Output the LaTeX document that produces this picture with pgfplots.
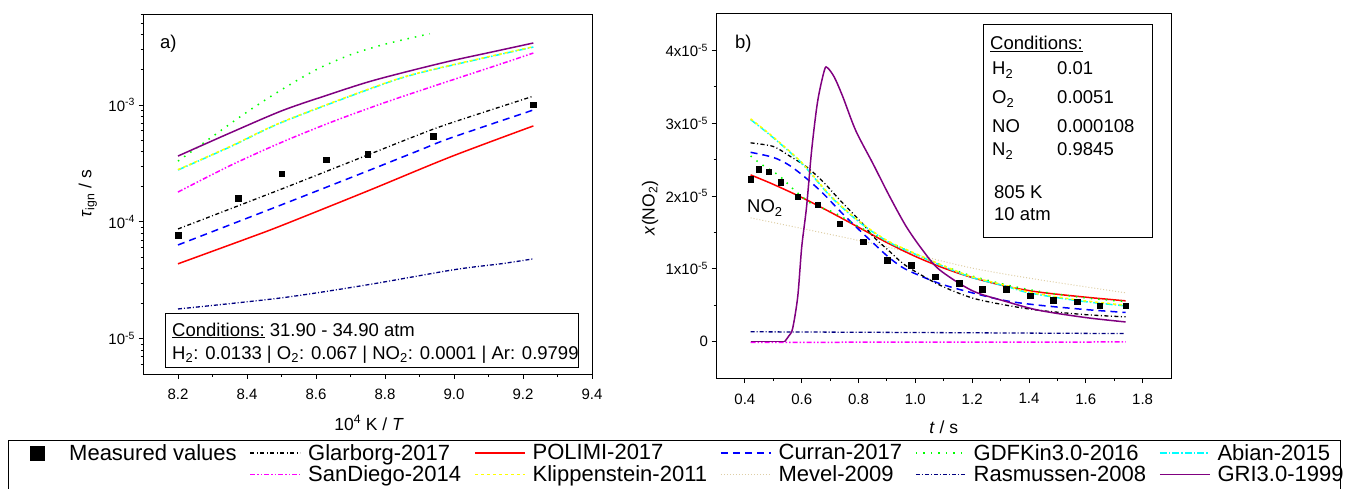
\documentclass[border=0pt]{standalone}
\usepackage{fontspec}
\setmainfont{Liberation Sans}
\usepackage{pgfplots}
\pgfplotsset{compat=1.18}
\definecolor{cGDF}{RGB}{0,255,0}
\definecolor{cAbian}{RGB}{0,255,255}
\definecolor{cSD}{RGB}{255,0,255}
\definecolor{cKlip}{RGB}{255,255,0}
\definecolor{cMevel}{RGB}{222,206,165}
\definecolor{cRas}{RGB}{0,0,128}
\definecolor{cGRI}{RGB}{128,0,128}
\definecolor{cCurran}{RGB}{0,0,255}
\definecolor{cPolimi}{RGB}{255,0,0}
\pgfplotsset{
 sGlar/.style={black, line width=1.3pt, dash pattern=on 4pt off 2.5pt on 1pt off 2.5pt},
 sPol/.style={cPolimi, line width=1.5pt},
 sCur/.style={cCurran, line width=1.5pt, dash pattern=on 7pt off 5pt},
 sGDF/.style={cGDF, line width=1.5pt, dash pattern=on 1.5pt off 6pt},
 sAbi/.style={cAbian, line width=1.5pt, dash pattern=on 7pt off 2pt on 1.5pt off 2pt},
 sSD/.style={cSD, line width=1.5pt, dash pattern=on 5pt off 2pt on 1.5pt off 2pt on 1.5pt off 2pt},
 sKli/.style={cKlip, line width=1.5pt, dash pattern=on 3pt off 3pt},
 sMev/.style={cMevel, line width=1pt, dash pattern=on 1pt off 2pt},
 sRas/.style={cRas, line width=1.3pt, dash pattern=on 4pt off 2pt on 1pt off 2pt},
 sGRI/.style={cGRI, line width=1.5pt},
 sMeas/.style={only marks, mark=square*, mark size=2.7pt, black},
 common/.style={
  scale only axis, anchor=south west,
  axis line style={line width=1pt, black},
  tick style={line width=0.9pt, black},
  tick align=outside, tick pos=left,
  major tick length=5pt, minor tick length=3pt,
  tick label style={font=\fontsize{15}{18}\selectfont, black},
  xticklabel style={yshift=-7pt},
  scaled ticks=false,
 },
}
\newcommand{\lab}{\fontsize{18.5}{22}\selectfont}
\newcommand{\axlab}{\fontsize{17.5}{21}\selectfont}
\begin{document}
\begin{tikzpicture}
\path[use as bounding box] (0,0) rectangle (1346pt,488pt);
% ---------------- panel a ----------------
\begin{axis}[common,
  at={(143.5pt,114pt)}, width=448.5pt, height=360pt,
  xmin=8.1, xmax=9.4,
  xtick={8.2,8.4,8.6,8.8,9.0,9.2,9.4},
  xticklabels={8.2,8.4,8.6,8.8,9.0,9.2,9.4},
  minor x tick num=1,
  ymode=log, ymin=5e-6, ymax=6e-3,
  ytick={1e-5,1e-4,1e-3},
  yticklabels={10\textsuperscript{-5},10\textsuperscript{-4},10\textsuperscript{-3}},
  minor ytick={6e-6,7e-6,8e-6,9e-6,2e-5,3e-5,4e-5,5e-5,6e-5,7e-5,8e-5,9e-5,2e-4,3e-4,4e-4,5e-4,6e-4,7e-4,8e-4,9e-4,2e-3,3e-3,4e-3,5e-3,6e-3},
  xlabel={10\textsuperscript{4} K / \textit{T}},
  ylabel={\textit{τ}\textsubscript{ign} / s},
  every axis x label/.style={at={(axis description cs:0.503,-0.136)}, anchor=center, font=\axlab},
  every axis y label/.style={at={(axis description cs:-0.124,0.5)}, rotate=90, anchor=center, font=\axlab},
  legend columns=6,
  legend cell align=left,
  legend image code/.code={\draw[mark repeat=2,mark phase=2,#1] plot coordinates {(0pt,0pt) (25pt,0pt) (50pt,0pt)};},
  legend style={draw=none, fill=none, inner sep=0pt,
    at={(axis description cs:-0.2932,-0.1889)}, anchor=north west,
    font=\fontsize{22}{26}\selectfont,
    nodes={inner sep=2pt},
    /tikz/every odd column/.append style={column sep=5pt},
    /tikz/every even column/.append style={column sep=11pt}},
]
\addplot[sMeas, forget plot] coordinates {(8.2,7.7e-5) (8.375,1.6e-4) (8.5,2.57e-4) (8.63,3.39e-4) (8.75,3.8e-4) (8.94,5.4e-4) (9.23,1.0e-3)};
\addplot[sRas, smooth, forget plot] coordinates {(8.2,1.80e-5) (8.5,2.24e-5) (8.75,2.9e-5) (9.0,3.9e-5) (9.14,4.4e-5) (9.23,4.83e-5)};
\addplot[sPol, smooth, forget plot] coordinates {(8.2,4.38e-5) (8.4,7.2e-5) (8.5,9.3e-5) (8.75,1.84e-4) (8.99,3.6e-4) (9.23,6.62e-4)};
\addplot[sCur, smooth, forget plot] coordinates {(8.2,6.35e-5) (8.5,1.40e-4) (8.75,2.73e-4) (8.9,4.1e-4) (8.99,5.22e-4) (9.23,9.06e-4)};
\addplot[sGlar, smooth, forget plot] coordinates {(8.2,8.7e-5) (8.5,1.91e-4) (8.75,3.74e-4) (8.9,5.6e-4) (8.99,7.0e-4) (9.23,1.19e-3)};
\addplot[sSD, smooth, forget plot] coordinates {(8.2,1.80e-4) (8.35,3.02e-4) (8.5,4.79e-4) (8.65,7.24e-4) (8.8,1.05e-3) (8.95,1.48e-3) (9.1,2.07e-3) (9.23,2.78e-3)};
\addplot[sAbi, smooth, forget plot] coordinates {(8.2,2.78e-4) (8.35,4.37e-4) (8.5,7.08e-4) (8.75,1.35e-3) (8.9,1.88e-3) (9.23,3.13e-3)};
\addplot[sKli, smooth, forget plot] coordinates {(8.2,2.80e-4) (8.35,4.40e-4) (8.5,7.12e-4) (8.75,1.36e-3) (8.9,1.89e-3) (9.23,3.15e-3)};
\addplot[sGDF, smooth, forget plot] coordinates {(8.2,3.31e-4) (8.3,5.37e-4) (8.4,8.71e-4) (8.5,1.35e-3) (8.6,2.0e-3) (8.7,2.69e-3) (8.8,3.31e-3) (8.93,4.07e-3)};
\addplot[sGRI, smooth, forget plot] coordinates {(8.2,3.66e-4) (8.35,5.75e-4) (8.5,8.9e-4) (8.62,1.18e-3) (8.75,1.57e-3) (8.87,1.95e-3) (8.99,2.38e-3) (9.11,2.84e-3) (9.23,3.39e-3)};
% legend
\addlegendimage{legend image code/.code={\path[draw=none,fill=none] (0pt,-1pt) rectangle (50pt,1pt);\draw[only marks, mark=square*, mark size=7pt, black] plot coordinates {(25pt,0pt)};}}
\addlegendentry{Measured values}
\addlegendimage{sGlar}\addlegendentry{Glarborg-2017}
\addlegendimage{sPol}\addlegendentry{POLIMI-2017}
\addlegendimage{sCur}\addlegendentry{Curran-2017}
\addlegendimage{sGDF}\addlegendentry{GDFKin3.0-2016}
\addlegendimage{sAbi}\addlegendentry{Abian-2015}
\addlegendimage{empty legend}\addlegendentry{}
\addlegendimage{sSD}\addlegendentry{SanDiego-2014}
\addlegendimage{sKli}\addlegendentry{Klippenstein-2011}
\addlegendimage{sMev}\addlegendentry{Mevel-2009}
\addlegendimage{sRas}\addlegendentry{Rasmussen-2008}
\addlegendimage{sGRI}\addlegendentry{GRI3.0-1999}
\end{axis}
% ---------------- panel b ----------------
\begin{axis}[common,
  at={(716.5pt,110pt)}, width=454.5pt, height=364pt,
  xmin=0.3, xmax=1.9,
  xtick={0.4,0.6,0.8,1.0,1.2,1.4,1.6,1.8},
  xticklabels={0.4,0.6,0.8,1.0,1.2,1.4,1.6,1.8},
  minor x tick num=1,
  ymin=-0.5e-5, ymax=4.5e-5,
  ytick={0,1e-5,2e-5,3e-5,4e-5},
  yticklabels={0,1x10\textsuperscript{-5},2x10\textsuperscript{-5},3x10\textsuperscript{-5},4x10\textsuperscript{-5}},
  minor y tick num=1,
  xlabel={\textit{t} / s},
  ylabel={\textit{x}(NO\textsubscript{2})},
  every axis x label/.style={at={(axis description cs:0.5,-0.135)}, anchor=center, font=\axlab},
  every axis y label/.style={at={(axis description cs:-0.146,0.467)}, rotate=90, anchor=center, font=\axlab},
]
\addplot[sMeas] coordinates {(0.42,2.23e-5) (0.449,2.37e-5) (0.484,2.33e-5) (0.526,2.19e-5) (0.586,1.99e-5) (0.656,1.88e-5) (0.733,1.62e-5) (0.817,1.37e-5) (0.901,1.12e-5) (0.985,1.05e-5) (1.07,0.89e-5) (1.154,0.80e-5) (1.235,0.72e-5) (1.32,0.72e-5) (1.404,0.63e-5) (1.485,0.57e-5) (1.57,0.55e-5) (1.65,0.49e-5) (1.74,0.49e-5)};
\addplot[sMev, smooth] coordinates {(0.42,1.70e-5) (0.63,1.53e-5) (0.87,1.33e-5) (1.0,1.2e-5) (1.1,1.1e-5) (1.225,0.99e-5) (1.435,0.85e-5) (1.74,0.67e-5)};
\addplot[sRas] coordinates {(0.42,0.135e-5) (1.0,0.125e-5) (1.74,0.11e-5)};
\addplot[sSD] coordinates {(0.42,-0.01e-5) (1.0,-0.008e-5) (1.74,-0.005e-5)};
\addplot[sPol, smooth] coordinates {(0.42,2.29e-5) (0.5,2.16e-5) (0.6,1.98e-5) (0.7,1.78e-5) (0.8,1.57e-5) (0.9,1.36e-5) (1.0,1.17e-5) (1.1,1.01e-5) (1.2,0.88e-5) (1.32,0.76e-5) (1.435,0.68e-5) (1.6,0.61e-5) (1.74,0.56e-5)};
\addplot[sCur, smooth] coordinates {(0.42,2.6e-5) (0.5,2.53e-5) (0.557,2.42e-5) (0.617,2.24e-5) (0.674,2.04e-5) (0.733,1.8e-5) (0.79,1.58e-5) (0.85,1.36e-5) (0.909,1.15e-5) (0.968,0.99e-5) (1.084,0.8e-5) (1.2,0.67e-5) (1.32,0.56e-5) (1.435,0.5e-5) (1.6,0.44e-5) (1.74,0.4e-5)};
\addplot[sGlar, smooth] coordinates {(0.42,2.73e-5) (0.5,2.68e-5) (0.557,2.55e-5) (0.617,2.4e-5) (0.674,2.2e-5) (0.733,1.95e-5) (0.814,1.62e-5) (0.85,1.45e-5) (0.909,1.24e-5) (0.968,1.04e-5) (1.084,0.78e-5) (1.2,0.6e-5) (1.32,0.5e-5) (1.435,0.43e-5) (1.6,0.37e-5) (1.74,0.34e-5)};
\addplot[sGDF, smooth] coordinates {(0.42,2.55e-5) (0.46,2.43e-5) (0.52,2.28e-5) (0.58,2.06e-5) (0.64,1.88e-5) (0.71,1.78e-5) (0.8,1.58e-5) (0.9,1.38e-5) (1.0,1.2e-5) (1.1,1.04e-5) (1.2,0.9e-5) (1.32,0.78e-5) (1.435,0.69e-5) (1.6,0.6e-5) (1.74,0.55e-5)};
\addplot[sAbi, smooth] coordinates {(0.42,3.05e-5) (0.5,2.8e-5) (0.6,2.45e-5) (0.7,2.0e-5) (0.8,1.65e-5) (0.9,1.38e-5) (1.0,1.2e-5) (1.1,1.03e-5) (1.2,0.88e-5) (1.32,0.76e-5) (1.4,0.67e-5) (1.575,0.56e-5) (1.74,0.49e-5)};
\addplot[sKli, smooth] coordinates {(0.42,3.06e-5) (0.5,2.81e-5) (0.6,2.46e-5) (0.7,2.01e-5) (0.8,1.66e-5) (0.9,1.39e-5) (1.0,1.21e-5) (1.1,1.04e-5) (1.2,0.89e-5) (1.32,0.77e-5) (1.4,0.68e-5) (1.575,0.57e-5) (1.74,0.5e-5)};
\addplot[sGRI] coordinates {(0.42,0) (0.5,0) (0.54,0)};
\addplot[sGRI, smooth, tension=0.5] coordinates {(0.54,0) (0.555,0.08e-5) (0.568,0.18e-5) (0.586,0.62e-5) (0.6,1.3e-5) (0.617,1.85e-5) (0.635,2.63e-5) (0.656,3.3e-5) (0.68,3.73e-5) (0.691,3.76e-5) (0.715,3.63e-5) (0.745,3.36e-5) (0.79,2.9e-5) (0.85,2.45e-5) (0.91,1.99e-5) (0.968,1.58e-5) (1.025,1.26e-5) (1.084,0.99e-5) (1.2,0.7e-5) (1.32,0.55e-5) (1.435,0.43e-5) (1.6,0.33e-5) (1.74,0.27e-5)};
\end{axis}
% annotations panel a
\node[anchor=base west, inner sep=0pt, font=\lab] at (160pt,439pt) {a)};
\draw[line width=0.8pt] (165pt,175pt) rectangle (578pt,121pt);
\node[anchor=base west, inner sep=0pt, font=\lab] at (172pt,152pt) {\underline{Conditions:} 31.90 - 34.90 atm};
\node[anchor=base west, inner sep=0pt, font=\lab] at (172pt,129pt) {H\textsubscript{2}: 0.0133 | O\textsubscript{2}: 0.067 | NO\textsubscript{2}: 0.0001 | Ar: 0.9799};
% annotations panel b
\node[anchor=base west, inner sep=0pt, font=\lab] at (735pt,439pt) {b)};
\node[anchor=base west, inner sep=0pt, font=\lab] at (747pt,275pt) {NO\textsubscript{2}};
\draw[line width=0.8pt] (983pt,464pt) rectangle (1152pt,251pt);
\node[anchor=base west, inner sep=0pt, font=\lab] at (990pt,438pt) {\underline{Conditions:}};
\node[anchor=base west, inner sep=0pt, font=\lab] at (992pt,413pt) {H\textsubscript{2}};
\node[anchor=base west, inner sep=0pt, font=\lab] at (1057pt,413pt) {0.01};
\node[anchor=base west, inner sep=0pt, font=\lab] at (992pt,384pt) {O\textsubscript{2}};
\node[anchor=base west, inner sep=0pt, font=\lab] at (1057pt,384pt) {0.0051};
\node[anchor=base west, inner sep=0pt, font=\lab] at (992pt,355pt) {NO};
\node[anchor=base west, inner sep=0pt, font=\lab] at (1057pt,355pt) {0.000108};
\node[anchor=base west, inner sep=0pt, font=\lab] at (992pt,332pt) {N\textsubscript{2}};
\node[anchor=base west, inner sep=0pt, font=\lab] at (1057pt,332pt) {0.9845};
\node[anchor=base west, inner sep=0pt, font=\lab] at (994pt,289pt) {805 K};
\node[anchor=base west, inner sep=0pt, font=\lab] at (994pt,268pt) {10 atm};
% legend frame
\draw[line width=0.8pt] (8pt,48pt) rectangle (1340pt,-10pt);
\end{tikzpicture}
\end{document}
